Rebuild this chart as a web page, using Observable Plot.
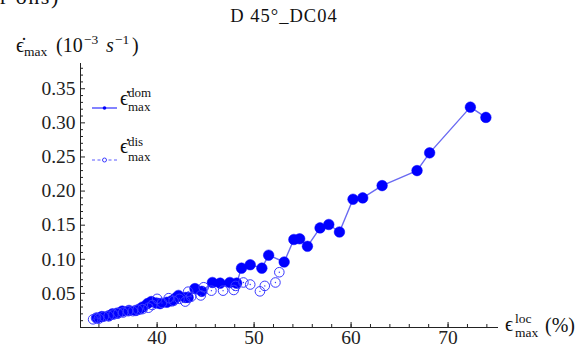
<!DOCTYPE html>
<html>
<head>
<meta charset="utf-8">
<script src="https://cdn.jsdelivr.net/npm/d3@7"></script>
<script src="https://cdn.jsdelivr.net/npm/@observablehq/plot@0.6"></script>
<style>
  html, body { margin: 0; padding: 0; background: #fff; }
  svg text { font-family: "Liberation Serif", "DejaVu Serif", serif; }
</style>
</head>
<body>
<div id="chart"></div>
<script>
const title = "D 45°_DC04";
// dominant (filled, joined) series
const domX = [33.8, 34.3, 35.0, 35.4, 35.9, 36.4, 37.1, 37.8, 38.2, 38.5, 39.0, 39.4, 39.9, 40.3, 41.0, 41.5, 41.9, 42.2, 42.9, 43.2, 43.9, 44.6, 45.7, 46.5, 47.5, 48.2, 48.7, 49.6, 50.8, 51.5, 53.1, 54.1, 54.7, 55.5, 56.8, 57.7, 58.8, 60.2, 61.2, 63.2, 66.8, 68.1, 72.3, 73.9];
const domY = [0.014, 0.016, 0.017, 0.020, 0.021, 0.024, 0.025, 0.025, 0.027, 0.030, 0.035, 0.038, 0.036, 0.035, 0.037, 0.039, 0.043, 0.047, 0.044, 0.044, 0.057, 0.053, 0.066, 0.065, 0.066, 0.065, 0.087, 0.092, 0.087, 0.106, 0.096, 0.129, 0.130, 0.119, 0.146, 0.151, 0.140, 0.188, 0.190, 0.208, 0.230, 0.256, 0.323, 0.308];
// dissipated (open circles) series
const disX = [33.4, 33.7, 34.0, 34.5, 35.0, 35.5, 36.0, 36.5, 37.0, 37.5, 38.0, 38.5, 39.1, 39.5, 40.0, 40.5, 41.2, 41.7, 42.3, 42.9, 43.2, 43.5, 44.5, 44.8, 45.6, 46.8, 47.9, 48.1, 48.9, 49.6, 50.6, 51.1, 52.2, 52.6];
const disY = [0.012, 0.014, 0.013, 0.016, 0.017, 0.019, 0.021, 0.022, 0.024, 0.024, 0.026, 0.027, 0.029, 0.033, 0.042, 0.036, 0.043, 0.039, 0.042, 0.038, 0.0525, 0.045, 0.047, 0.059, 0.054, 0.054, 0.055, 0.061, 0.066, 0.063, 0.053, 0.061, 0.066, 0.081];
const xTickLabels = [40, 50, 60, 70];
const xTicksAll = [34, 36, 38, 40, 42, 44, 46, 48, 50, 52, 54, 56, 58, 60, 62, 64, 66, 68, 70, 72, 74];
const yTickLabels = [0.05, 0.10, 0.15, 0.20, 0.25, 0.30, 0.35];
const yTicksMinor = [0.01, 0.02, 0.03, 0.04, 0.06, 0.07, 0.08, 0.09, 0.11, 0.12, 0.13, 0.14, 0.16, 0.17, 0.18, 0.19, 0.21, 0.22, 0.23, 0.24, 0.26, 0.27, 0.28, 0.29, 0.31, 0.32, 0.33, 0.34, 0.36, 0.37, 0.38];
const xDomain = [32.1, 75.2];
const yDomain = [0, 0.387];

const dom = domX.map((x, i) => ({x, y: domY[i]}));
const dis = disX.map((x, i) => ({x, y: disY[i]}));

const blue = "#0000ff";
const plot = Plot.plot({
  width: 585,
  height: 347,
  marginLeft: 80,
  marginRight: 87,
  marginTop: 63,
  marginBottom: 20,
  style: {fontFamily: "Liberation Serif", fontSize: "19px", color: "#222"},
  x: {domain: xDomain},
  y: {domain: yDomain},
  marks: [
    Plot.ruleY([yDomain[0]], {stroke: "#222", strokeWidth: 1}),
    Plot.ruleX([xDomain[0]], {stroke: "#222", strokeWidth: 1}),
    Plot.axisX({ticks: xTicksAll, tickSize: -3, tickFormat: () => "", label: null, stroke: "#222"}),
    Plot.axisX({ticks: xTickLabels, tickSize: -5, tickPadding: 8, tickFormat: d => String(d), label: null, fontSize: 19.5, stroke: "#222"}),
    Plot.axisY({ticks: yTicksMinor, tickSize: -3, tickFormat: () => "", label: null, stroke: "#222"}),
    Plot.axisY({ticks: yTickLabels, tickSize: -5, tickPadding: 10, tickFormat: d => d.toFixed(2), label: null, fontSize: 19.5, stroke: "#222"}),
    Plot.line(dom, {x: "x", y: "y", stroke: "#6a6af2", strokeWidth: 1.4}),
    Plot.dot(dom, {x: "x", y: "y", r: 5.3, fill: blue, stroke: blue, strokeWidth: 0.5}),
    Plot.dot(dis, {x: "x", y: "y", r: 4.8, fill: "none", stroke: "#3a3aff", strokeWidth: 1}),
    Plot.dot(dis, {x: "x", y: "y", r: 0.7, fill: "#3a3aff"})
  ]
});
document.getElementById("chart").appendChild(plot);

const svg = d3.select(plot);
const g = svg.append("g").attr("fill", "#111").attr("text-anchor", "start")
  .style("font-family", "'Liberation Serif','DejaVu Serif',serif");

// cut-off text at top-left
g.append("text").attr("x", 0).attr("y", 4).attr("font-size", 22).attr("letter-spacing", 1.5).text("r ons)");

// title
g.append("text").attr("x", 284).attr("y", 22).attr("text-anchor", "middle").attr("font-size", 18.5).attr("letter-spacing", 1).text(title);

// y label
const yl = g.append("text").attr("y", 52).attr("font-size", 20);
yl.append("tspan").attr("x", 16).text("\u03F5\u0307");
yl.append("tspan").attr("x", 24).attr("font-size", 13.5).attr("dy", 4).text("max");
yl.append("tspan").attr("x", 56).attr("dy", -4).text("(10");
yl.append("tspan").attr("x", 84).attr("font-size", 13.5).attr("dy", -8).text("\u22123");
yl.append("tspan").attr("x", 106).attr("dy", 8).attr("font-style", "italic").text("s");
yl.append("tspan").attr("x", 115).attr("font-size", 13.5).attr("dy", -8).text("\u22121");
yl.append("tspan").attr("x", 132).attr("dy", 8).text(")");

// x label
g.append("text").attr("x", 505).attr("y", 331).attr("font-size", 20).text("\u03F5");
g.append("text").attr("x", 515).attr("y", 323).attr("font-size", 13.5).text("loc");
g.append("text").attr("x", 515).attr("y", 337).attr("font-size", 13.5).text("max");
g.append("text").attr("x", 545).attr("y", 332).attr("font-size", 20).text("(%)");

// legend
const lg = g.append("g");
lg.append("line").attr("x1", 92).attr("x2", 117).attr("y1", 108).attr("y2", 108).attr("stroke", "#3030ff").attr("stroke-width", 1.2);
lg.append("circle").attr("cx", 104.5).attr("cy", 108).attr("r", 1.8).attr("fill", blue);
lg.append("text").attr("x", 120).attr("y", 105).attr("font-size", 20).text("\u03F5\u0307");
lg.append("text").attr("x", 128).attr("y", 97).attr("font-size", 13).text("dom");
lg.append("text").attr("x", 128).attr("y", 111).attr("font-size", 13).text("max");

lg.append("line").attr("x1", 92).attr("x2", 117).attr("y1", 160).attr("y2", 160).attr("stroke", "#5a5aff").attr("stroke-width", 1).attr("stroke-dasharray", "3,2.5");
lg.append("circle").attr("cx", 104.5).attr("cy", 160).attr("r", 2).attr("fill", "#fff").attr("stroke", "#3a3aff").attr("stroke-width", 1);
lg.append("text").attr("x", 120).attr("y", 153).attr("font-size", 20).text("\u03F5\u0307");
lg.append("text").attr("x", 128).attr("y", 146).attr("font-size", 13).text("dis");
lg.append("text").attr("x", 128).attr("y", 161).attr("font-size", 13).text("max");
</script>
</body>
</html>
